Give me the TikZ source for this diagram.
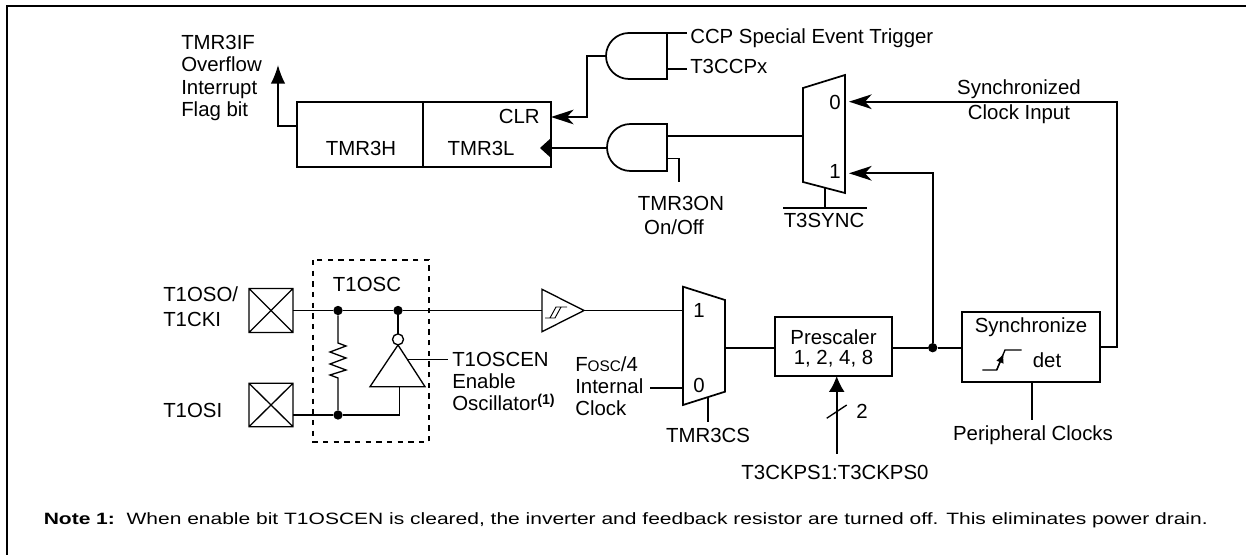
\documentclass[tikz,border=0pt]{standalone}
\usepackage{fontspec}
\setmainfont{Liberation Sans}
\usetikzlibrary{arrows.meta}
\begin{document}
\begin{tikzpicture}[x=0.75pt,y=-0.75pt,
  wire/.style={line width=1.3pt},
  thinw/.style={line width=1pt},
  lbl/.style={inner sep=0pt,font=\fontsize{15.3}{18}\selectfont},
  dotn/.style={circle,fill=black,inner sep=0pt,minimum size=7pt},
  tri/.style={-{Latex[length=14pt,width=11pt]}},
  stl/.style={-{Stealth[length=17pt,width=11pt,inset=5pt]}},
  boxn/.style={draw,line width=1.3pt,inner sep=0pt},
]
\useasboundingbox (0,0) rectangle (1246,555);
% frame (cropped)
\draw[line width=1.6pt] (1246,6) -- (7,6) -- (7,555);

% ---------------- register ----------------
\node[boxn,minimum width=94.5pt,minimum height=48.75pt] (regH) at (360,134.5) {};
\node[boxn,minimum width=96pt,minimum height=48.75pt] (regL) at (487,134.5) {};
\node[lbl,anchor=base] (tH) at (361,155.5) {TMR3H};
\node[lbl,anchor=base] (tL) at (481,155.5) {TMR3L};
\node[lbl,anchor=base east] (clr) at (540,124) {CLR};
\fill (551,138) -- (540,148) -- (551,158) -- cycle;
\coordinate (clkin) at (551,148);
\coordinate (clrin) at (551,117);
\coordinate (hout) at (297,126);
\coordinate (ovf) at (278,65);
\draw[wire,tri] (hout) -- (278,126) -- (ovf);
\node[lbl,anchor=base west] (if1) at (181,49.5) {TMR3IF};
\node[lbl,anchor=base west] (if2) at (181,72) {Overflow};
\node[lbl,anchor=base west] (if3) at (181,94.5) {Interrupt};
\node[lbl,anchor=base west] (if4) at (181,117) {Flag bit};

% ---------------- AND gate 1 (CCP) ----------------
\draw[wire] (667,33) -- (629,33) .. controls (616.3,33) and (606,43.3) .. (606,56)
  .. controls (606,68.7) and (616.3,79) .. (629,79) -- (667,79) -- cycle;
\coordinate (g1out) at (606,56);
\coordinate (g1a) at (667,33);
\coordinate (g1b) at (667,69);
\draw[wire] (g1a) -- (687,33);
\draw[wire] (g1b) -- (687,69);
\node[lbl,anchor=base west] (ccp) at (690,44) {CCP Special Event Trigger};
\node[lbl,anchor=base west] (t3ccp) at (690,74) {T3CCPx};
\draw[wire,stl] (g1out) -- (587,56) -- (587,117) -- (clrin);

% ---------------- AND gate 2 (TMR3ON) ----------------
\draw[wire] (667,124) -- (630.5,124) .. controls (617.5,124) and (607,134.5) .. (607,147.5)
  .. controls (607,160.5) and (617.5,171) .. (630.5,171) -- (667,171) -- cycle;
\coordinate (g2out) at (607,148);
\coordinate (g2a) at (667,136);
\coordinate (g2b) at (667,158.5);
\draw[wire] (g2out) -- (clkin);
\draw[wire] (g2b) -- (679,158.5) -- (679,182.5);
\node[lbl,anchor=base] (on1) at (681,211) {TMR3ON};
\node[lbl,anchor=base] (on2) at (674,235) {On/Off};

% ---------------- MUX 1 (sync select) ----------------
\draw[wire] (803,88) -- (845,75) -- (845,193) -- (803,182) -- cycle;
\coordinate (m1out) at (803,136);
\coordinate (m1in0) at (849,101.7);
\coordinate (m1in1) at (849,173.3);
\draw[wire] (m1out) -- (g2a);
\node[lbl,anchor=base] (m1z) at (835,110) {0};
\node[lbl,anchor=base] (m1o) at (835,178.5) {1};
\draw[wire] (825,188) -- (825,208);
\draw[wire] (783,208) -- (867,208);
\node[lbl,anchor=base] (sync) at (824,228) {T3SYNC};
\node[lbl,anchor=base] (sc1) at (1019,95) {Synchronized};
\node[lbl,anchor=base] (sc2) at (1019,119.5) {Clock Input};

% ---------------- oscillator ----------------
\draw[thinw] (249,288.5) rectangle (293,332.5) (249,288.5) -- (293,332.5) (249,332.5) -- (293,288.5);
\draw[thinw] (249,383.3) rectangle (293,426.7) (249,383.3) -- (293,426.7) (249,426.7) -- (293,383.3);
\coordinate (pin1) at (293,310.5);
\coordinate (pin2) at (293,415);
\node[lbl,anchor=base west] (p1a) at (163,302) {T1OSO/};
\node[lbl,anchor=base west] (p1b) at (163,327) {T1CKI};
\node[lbl,anchor=base west] (p2) at (163,418) {T1OSI};
\node[dotn] (d1) at (338,310.5) {};
\node[dotn] (d2) at (398,310.5) {};
\node[dotn] (d3) at (338,415) {};
\draw[line width=1.1pt,dash pattern=on 4pt off 4pt] (313,260) rectangle (429,442);
\node[lbl,anchor=base] (osc) at (367,292) {T1OSC};
% resistor
\draw[thinw] (d1) -- (338,343) -- (346,346) -- (330,352) -- (346,358) -- (330,364) -- (346,370) -- (330,375) -- (338,378) -- (d3);
% inverter
\draw[thinw] (398,345) -- (425,386.7) -- (370,386.7) -- cycle;
\draw[thinw] (398,339.4) circle[radius=5.5];
\draw[thinw] (d2) -- (398,333.9);
\draw[thinw] (pin2) -- (d3) -- (399.5,415) -- (399.5,386.7);
\draw[thinw] (407.3,359.3) -- (448,359.3);
\node[lbl,anchor=base west] (en1) at (452,367) {T1OSCEN};
\node[lbl,anchor=base west] (en2) at (452,388.5) {Enable};
\node[lbl,anchor=base west] (en3) at (452,411) {Oscillator\textsuperscript{\textbf{(1)}}};

% Schmitt buffer
\draw[thinw] (542,289.3) -- (584,310.5) -- (542,331.7) -- cycle;
\draw[line width=0.7pt] (545,318) -- (555,318) -- (561,307) (550,318) -- (556,307) -- (567,307);
\coordinate (bufin) at (542,310.5);
\coordinate (bufout) at (584,310.5);
\draw[wire] (pin1) -- (d1) -- (d2) -- (bufin);

% ---------------- MUX 2 (TMR3CS) ----------------
\draw[wire] (683,286.7) -- (725,300) -- (725,391.7) -- (683,405) -- cycle;
\coordinate (m2in1) at (683,310.5);
\coordinate (m2in0) at (683,387.7);
\coordinate (m2out) at (725,347.7);
\draw[wire] (bufout) -- (m2in1);
\draw[wire] (650,387.7) -- (m2in0);
\draw[wire] (708,397) -- (708,421.7);
\node[lbl,anchor=base] (m2o) at (699,318) {1};
\node[lbl,anchor=base] (m2z) at (699,393) {0};
\node[lbl,anchor=base] (cs) at (708,443) {TMR3CS};
\node[lbl,anchor=base west] (fo1) at (575,372) {F{\fontsize{11.5}{12}\selectfont OSC}/4};
\node[lbl,anchor=base west] (fo2) at (575,394) {Internal};
\node[lbl,anchor=base west] (fo3) at (575,415.5) {Clock};

% ---------------- Prescaler ----------------
\node[boxn,minimum width=88pt,minimum height=44.5pt] (presc) at (833.65,346.35) {};
\node[lbl,anchor=base] (pr1) at (833.5,344.5) {Prescaler};
\node[lbl,anchor=base] (pr2) at (833.5,364.5) {1, 2, 4, 8};
\draw[wire] (m2out) -- (presc.west |- m2out);
\coordinate (psin) at (836.7,454);
\draw[wire,-{Latex[length=12pt,width=12pt]}] (psin) -- (836.7,376);
\draw[thinw] (826.7,418.3) -- (846.7,405);
\node[lbl,anchor=base] (two) at (862,418.5) {2};
\node[lbl,anchor=base] (ckps) at (835,480) {T3CKPS1:T3CKPS0};

% ---------------- Synchronize ----------------
\node[boxn,minimum width=103.7pt,minimum height=53pt] (syn) at (1030.85,347) {};
\node[lbl,anchor=base] (sy1) at (1031,333) {Synchronize};
\node[lbl,anchor=base] (sy2) at (1047,368) {det};
\draw[thinw] (982.3,370) -- (996.7,370) -- (1005,350) -- (1021.7,350);
\draw[line width=1pt,-{Latex[length=7pt,width=6pt]}] (996.7,370) -- (1003.6,353.5);
\node[dotn] (d4) at (932.7,347.7) {};
\draw[wire] (presc.east |- d4) -- (d4) -- (syn.west |- d4);
\draw[wire,stl] (d4) -- (932.7,173.3) -- (m1in1);
\draw[wire,stl] (syn.east |- 0,347) -- (1116.7,347) -- (1116.7,101.7) -- (m1in0);
\draw[wire] (syn.south -| 1031.7,0) -- (1031.7,420);
\node[lbl,anchor=base] (pc) at (1033,441) {Peripheral Clocks};

% ---------------- note ----------------
\node[inner sep=0pt,anchor=base west] (note) at (43.5,525) {\resizebox{873pt}{8.9pt}{\textbf{Note 1:}\ \ When enable bit T1OSCEN is cleared, the inverter and feedback resistor are turned off. This eliminates power drain.}};
\end{tikzpicture}
\end{document}
